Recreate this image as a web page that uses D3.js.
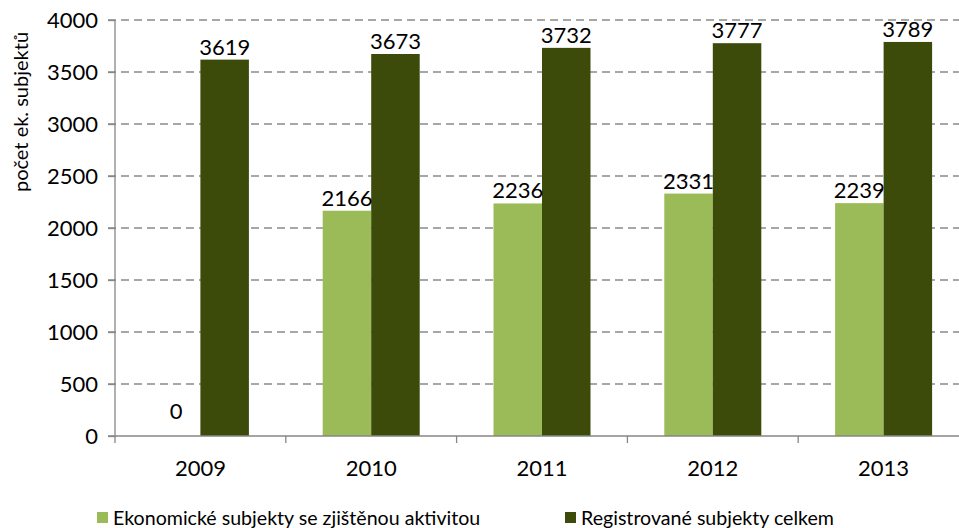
<!DOCTYPE html>
<html>
<head>
<meta charset="utf-8">
<script src="https://cdn.jsdelivr.net/npm/d3@7"></script>
<style>
  body { margin: 0; background: #fff; }
  svg { display: block; font-family: Lato, "Open Sans", sans-serif; }
</style>
</head>
<body>
<div id="chart"></div>
<script>
const years = ["2009", "2010", "2011", "2012", "2013"];
const activeSubjects = [0, 2166, 2236, 2331, 2239];
const registeredSubjects = [3619, 3673, 3732, 3777, 3789];
const yTicks = [0, 500, 1000, 1500, 2000, 2500, 3000, 3500, 4000];
const seriesNames = ["Ekonomické subjekty se zjištěnou aktivitou", "Registrované subjekty celkem"];
const colors = ["#9bbb59", "#3c4b0a"];

const width = 959, height = 528;
const margin = { left: 115, right: -10, top: 20, bottom: 92 };

const svg = d3.select("#chart").append("svg")
  .attr("width", width)
  .attr("height", height);

const x = d3.scaleBand()
  .domain(years)
  .range([margin.left, width - margin.right]);

const y = d3.scaleLinear()
  .domain([0, 4000])
  .range([height - margin.bottom, margin.top]);

const barW = x.bandwidth() * 0.284;

// gridlines
svg.append("g")
  .selectAll("line")
  .data(yTicks.filter(d => d > 0))
  .join("line")
  .attr("x1", margin.left - 7)
  .attr("x2", width)
  .attr("y1", d => y(d))
  .attr("y2", d => y(d))
  .attr("stroke", "#8a8a8a")
  .attr("stroke-width", 1.3)
  .attr("stroke-dasharray", "8,5");

const data = years.map((yr, i) => ({ yr, vals: [activeSubjects[i], registeredSubjects[i]] }));

const groups = svg.append("g")
  .selectAll("g")
  .data(data)
  .join("g");

groups.selectAll("rect")
  .data(d => d.vals.map((v, k) => ({ yr: d.yr, v, k })))
  .join("rect")
  .attr("x", d => x(d.yr) + x.bandwidth() / 2 + (d.k - 1) * barW)
  .attr("y", d => y(d.v))
  .attr("width", barW)
  .attr("height", d => y(0) - y(d.v))
  .attr("fill", d => colors[d.k]);

groups.selectAll("text")
  .data(d => d.vals.map((v, k) => ({ yr: d.yr, v, k })))
  .join("text")
  .attr("x", d => x(d.yr) + x.bandwidth() / 2 + (d.k - 0.5) * barW)
  .attr("y", d => y(d.v) - (d.v === 0 ? 17 : 5))
  .attr("text-anchor", "middle")
  .attr("font-size", 22)
  .attr("fill", "#000")
  .text(d => d.v);

// y axis
const yAxis = svg.append("g")
  .attr("transform", `translate(${margin.left},0)`)
  .call(d3.axisLeft(y).tickValues(yTicks).tickFormat(d3.format("d")).tickSize(7).tickPadding(10));
yAxis.selectAll("line").attr("stroke", "#868686").attr("stroke-width", 1.3);
yAxis.select(".domain").attr("stroke", "#868686").attr("stroke-width", 1.3).attr("d", `M0,${y(4000)}V${y(0)}`);
yAxis.selectAll("text").attr("font-size", 22).attr("font-family", "Lato, sans-serif").attr("fill", "#000");

// x axis
const xAxisG = svg.append("g")
  .attr("transform", `translate(0,${y(0)})`);
xAxisG.append("line")
  .attr("x1", margin.left - 7).attr("x2", width)
  .attr("stroke", "#868686").attr("stroke-width", 1.3);
xAxisG.selectAll(".tk")
  .data(years)
  .join("line")
  .attr("class", "tk")
  .attr("x1", d => x(d)).attr("x2", d => x(d))
  .attr("y1", 0).attr("y2", 7)
  .attr("stroke", "#868686").attr("stroke-width", 1.3);
xAxisG.selectAll("text")
  .data(years)
  .join("text")
  .attr("x", d => x(d) + x.bandwidth() / 2)
  .attr("y", 40)
  .attr("text-anchor", "middle")
  .attr("font-size", 22)
  .text(d => d);

// y title
svg.append("text")
  .attr("transform", `translate(28,112) rotate(-90)`)
  .attr("text-anchor", "middle")
  .attr("font-size", 20)
  .text("počet ek. subjektů");

// legend
const legendX = [97, 565];
const legend = svg.append("g")
  .selectAll("g")
  .data(seriesNames)
  .join("g")
  .attr("transform", (d, i) => `translate(${legendX[i]},512)`);
legend.append("rect")
  .attr("width", 11).attr("height", 11)
  .attr("fill", (d, i) => colors[i]);
legend.append("text")
  .attr("x", 16).attr("y", 13)
  .attr("font-size", 19.6)
  .text(d => d);
</script>
</body>
</html>
